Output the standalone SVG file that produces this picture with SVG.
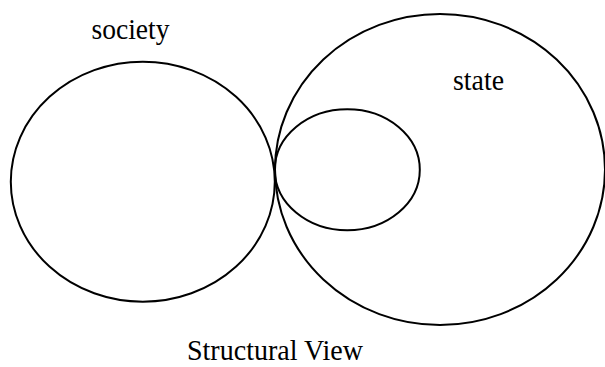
<svg xmlns="http://www.w3.org/2000/svg" width="605" height="367" viewBox="0 0 605 367">
<style>
.c{fill:none;stroke:#000;stroke-width:2}
.t{font-family:"Liberation Serif","Times New Roman",serif;font-size:28.5px;fill:#000}
</style>
<rect width="605" height="367" fill="#fff"/>
<g id="society">
<ellipse class="c" cx="142.8" cy="181.7" rx="132" ry="120"/>
<text class="t" x="91.5" y="38.5" textLength="78" lengthAdjust="spacingAndGlyphs">society</text>
</g>
<g id="state">
<ellipse class="c" cx="440" cy="169.5" rx="165" ry="155.5"/>
<text class="t" x="453" y="90" textLength="51" lengthAdjust="spacingAndGlyphs">state</text>
</g>
<g id="inner">
<ellipse class="c" cx="347.3" cy="169.7" rx="72.5" ry="60.5"/>
</g>
<g id="connectors"/>
<text class="t" x="187" y="360" textLength="176" lengthAdjust="spacingAndGlyphs">Structural View</text>
</svg>
